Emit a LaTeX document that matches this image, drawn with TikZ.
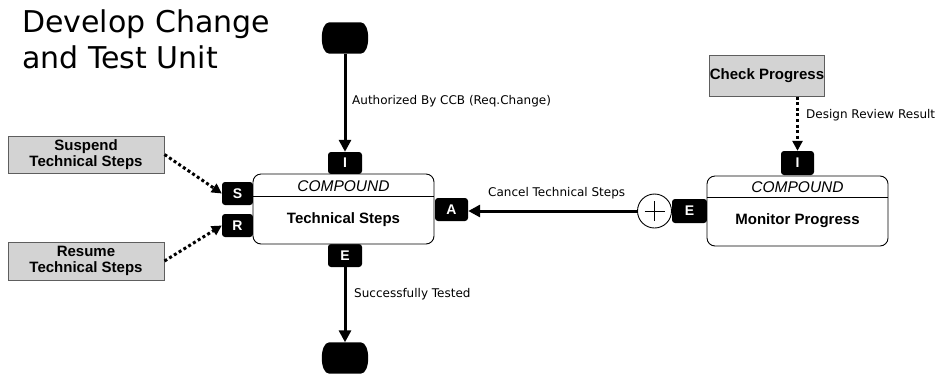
\documentclass[tikz,border=0pt]{standalone}
\usepackage{fontspec}
\setmainfont{DejaVu Sans}
\newfontfamily\arialf{Liberation Sans}
\usetikzlibrary{arrows.meta}
\definecolor{boxgray}{HTML}{D3D3D3}
\definecolor{boxedge}{HTML}{5E5E5E}
\begin{document}
\begin{tikzpicture}[x=1pt,y=-1pt,
  port/.style={fill=black, rounded corners=3pt, text=white, font=\arialf\fontsize{14}{14}\selectfont\bfseries, inner sep=0pt, minimum width=33pt, minimum height=23pt},
  cbox/.style={draw=black, line width=0.9pt, rounded corners=8pt, fill=white, minimum width=181pt, minimum height=70pt, inner sep=0pt},
  gbox/.style={draw=boxedge, line width=1pt, fill=boxgray, inner sep=0pt, align=center, font=\arialf\fontsize{15}{16}\selectfont\bfseries},
  term/.style={minimum width=43pt, minimum height=31pt, inner sep=0pt},
  hdr/.style={font=\arialf\fontsize{15.5}{15.5}\selectfont\itshape, inner sep=0pt},
  nm/.style={font=\arialf\fontsize{15}{15}\selectfont\bfseries, inner sep=0pt},
  lbl/.style={font=\fontsize{12}{12}\selectfont, inner sep=0pt, anchor=west},
  arr/.style={line width=3pt, -{Triangle[length=12pt,width=12pt]}},
  darr/.style={line width=3pt, dash pattern=on 3pt off 2.6pt, -{Triangle[length=10pt,width=10pt]}},
  ttl/.style={font=\fontsize{30}{36}\selectfont, inner sep=0pt, anchor=base west}
]
\useasboundingbox (0,0) rectangle (944,373);

% title
\node[ttl] (title1) at (22,32) {Develop Change};
\node[ttl] (title2) at (22,68) {and Test Unit};

% terminals
\node[term] (start) at (345,38) {};
\node[term] (stop) at (345,358) {};
\foreach \t in {start,stop}{
  \fill ([xshift=6pt]\t.north west) -- ([xshift=-6pt]\t.north east)
    .. controls ([xshift=4pt]\t.north east) and ([xshift=4pt]\t.south east) .. ([xshift=-6pt]\t.south east)
    -- ([xshift=6pt]\t.south west)
    .. controls ([xshift=-4pt]\t.south west) and ([xshift=-4pt]\t.north west) .. cycle;
}

% ports of Technical Steps
\node[port, minimum width=34pt, minimum height=22pt] (tsI) at (345,163) {I};
\node[port, minimum width=31pt] (tsS) at (237.5,193.5) {S};
\node[port, minimum width=31pt] (tsR) at (237.5,225.5) {R};
\node[port] (tsA) at (451.5,209.5) {A};
\node[port, minimum width=34pt] (tsE) at (345,255.5) {E};

% ports of Monitor Progress
\node[port, minimum height=24pt] (mpI) at (797.5,163) {I};
\node[port, minimum width=35pt, minimum height=24pt] (mpE) at (689.5,211) {E};

% compound boxes
\node[cbox] (ts) at (343.5,209) {};
\draw[line width=0.9pt] ([yshift=-23pt]ts.north west) -- ([yshift=-23pt]ts.north east);
\node[hdr] (tsh) at (343.5,186) {COMPOUND};
\node[nm] (tsn) at (343.5,220) {Technical Steps};

\node[cbox] (mp) at (797.5,211) {};
\draw[line width=0.9pt] ([yshift=-22pt]mp.north west) -- ([yshift=-22pt]mp.north east);
\node[hdr] (mph) at (797.5,187) {COMPOUND};
\node[nm] (mpn) at (797.5,221) {Monitor Progress};

% gray boxes
\node[gbox, minimum width=156pt, minimum height=37pt] (sus) at (86,154.5) {Suspend\\Technical Steps};
\node[gbox, minimum width=156pt, minimum height=38pt] (res) at (86,261) {Resume\\Technical Steps};
\node[gbox, minimum width=100pt, minimum height=41pt] (chk) at (767,75.5) {Check Progress};

% cancel junction
\node[circle, draw=black, line width=0.9pt, fill=white, minimum size=34pt, inner sep=0pt] (circ) at (654.5,211) {};
\draw[line width=1pt] ([xshift=-10pt]circ.center) -- ([xshift=10pt]circ.center);
\draw[line width=1pt] ([yshift=-10pt]circ.center) -- ([yshift=10pt]circ.center);

% connectors
\draw[arr] (start.south) -- (tsI.north);
\draw[arr] (tsE.south) -- (stop.north);
\draw[arr] (circ.west) -- (circ.west -| tsA.east);
\draw[darr] (sus.east) -- (tsS.west);
\draw[darr] (res.east) -- (tsR.west);
\draw[darr] (chk.south -| mpI.north) -- (mpI.north);

% labels
\node[lbl] (l1) at (352,101) {Authorized By CCB (Req.Change)};
\node[lbl] (l2) at (488,193) {Cancel Technical Steps};
\node[lbl] (l3) at (354,294) {Successfully Tested};
\node[lbl] (l4) at (806,115) {Design Review Result};
\end{tikzpicture}
\end{document}
